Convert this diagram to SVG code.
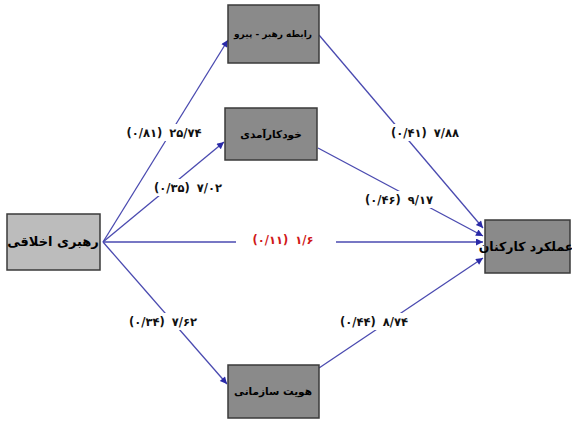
<svg xmlns="http://www.w3.org/2000/svg" width="572" height="421" viewBox="0 0 572 421">
<style>
.box{fill:#8a8a8a;stroke:#3a3a3a;stroke-width:1.5}
.lbox{fill:#bcbcbc;stroke:#3a3a3a;stroke-width:1.5}
.nt{font-family:"DejaVu Sans",sans-serif;font-weight:bold;fill:#000;text-anchor:middle;direction:rtl}
.ln{stroke:#4a4ab0;stroke-width:1.3;fill:none}
.lab{font-family:"DejaVu Sans",sans-serif;font-weight:bold;font-size:11.5px;fill:#111;text-anchor:middle;direction:ltr;word-spacing:3px}
.bg{fill:#fff}
</style>
<defs>
<marker id="ah" viewBox="0 0 10 10" refX="10" refY="5" markerWidth="10" markerHeight="7" orient="auto" markerUnits="userSpaceOnUse">
<path d="M0,0 L10,5 L0,10 z" fill="#2a2aa8"/>
</marker>
</defs>
<g id="connectors">
<line class="ln" x1="103" y1="242" x2="228" y2="40" marker-end="url(#ah)"/>
<line class="ln" x1="103" y1="242" x2="224" y2="142" marker-end="url(#ah)"/>
<line class="ln" x1="103" y1="242" x2="227" y2="384" marker-end="url(#ah)"/>
<line class="ln" x1="103" y1="242" x2="483" y2="242" marker-end="url(#ah)"/>
<line class="ln" x1="319" y1="35" x2="483" y2="228" marker-end="url(#ah)"/>
<line class="ln" x1="318" y1="148" x2="483" y2="236" marker-end="url(#ah)"/>
<line class="ln" x1="319" y1="368" x2="483" y2="258" marker-end="url(#ah)"/>
<rect class="bg" x="111" y="124" width="106" height="17"/>
<text class="lab" x="164" y="137">(۰/۸۱) ۲۵/۷۴</text>
<rect class="bg" x="144" y="179" width="88" height="17"/>
<text class="lab" x="188" y="192">(۰/۳۵) ۷/۰۲</text>
<rect class="bg" x="236" y="231" width="100" height="18"/>
<text class="lab" x="283" y="244" style="fill:#d01818">(۰/۱۱) ۱/۶</text>
<rect class="bg" x="383" y="124" width="84" height="17"/>
<text class="lab" x="425" y="137">(۰/۴۱) ۷/۸۸</text>
<rect class="bg" x="360" y="191" width="78" height="17"/>
<text class="lab" x="399" y="204">(۰/۴۶) ۹/۱۷</text>
<rect class="bg" x="121" y="313" width="84" height="17"/>
<text class="lab" x="163" y="326">(۰/۳۴) ۷/۶۲</text>
<rect class="bg" x="331" y="313" width="86" height="17"/>
<text class="lab" x="374" y="326">(۰/۴۴) ۸/۷۴</text>
</g>
<g id="n-rabete">
<rect class="box" x="228" y="5" width="91" height="58"/>
<text class="nt" x="273" y="37" font-size="9">رابطه رهبر - پیرو</text>
</g>
<g id="n-khodkaramadi">
<rect class="box" x="225" y="108" width="92" height="52"/>
<text class="nt" x="271" y="138" font-size="10.5">خودکارآمدی</text>
</g>
<g id="n-rahbari">
<rect class="lbox" x="7" y="214" width="93" height="56"/>
<text class="nt" x="53" y="246" font-size="13">رهبری اخلاقی</text>
</g>
<g id="n-amalkard">
<rect class="box" x="485" y="220" width="85" height="53"/>
<text class="nt" x="526" y="251" font-size="12.5">عملکرد کارکنان</text>
</g>
<g id="n-hoviat">
<rect class="box" x="228" y="365" width="91" height="53"/>
<text class="nt" x="273" y="395" font-size="10.5">هویت سازمانی</text>
</g>
</svg>
